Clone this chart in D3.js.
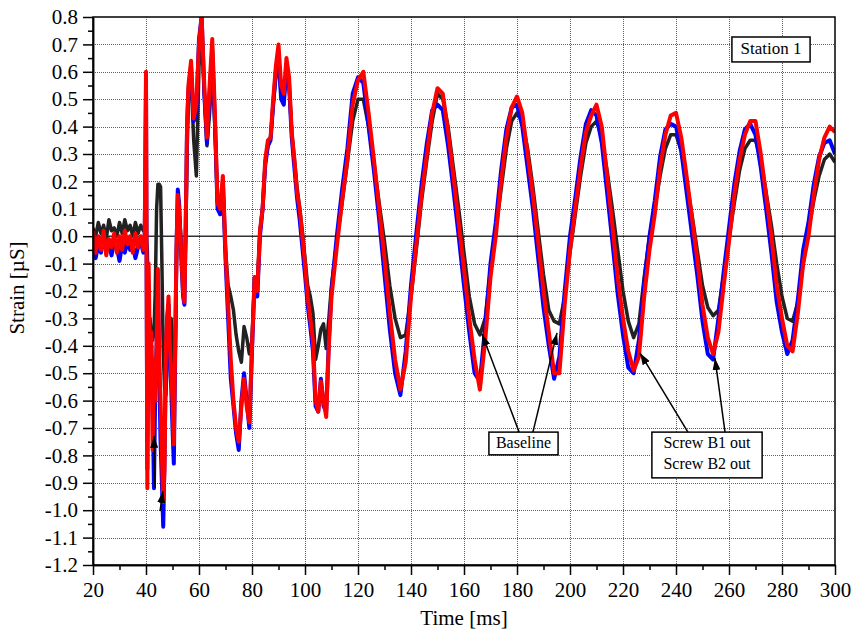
<!DOCTYPE html>
<html>
<head>
<meta charset="utf-8">
<script src="https://cdn.jsdelivr.net/npm/d3@7"></script>
<style>
  body { margin: 0; background: #fff; }
  text { font-family: "Liberation Serif", "Times New Roman", serif; fill: #000; }
</style>
</head>
<body>
<svg id="chart" width="852" height="630"></svg>
<script>
// sample times (ms)
var timeMs = [20,21,22,23,24,25,26,27,28,29,30,31,32,33,34,35,36,37,38,39,
  39.5,40,40.5,41,41.5,42,42.5,43,43.5,44,44.5,45,45.5,46,46.5,47,47.5,48,48.5,49,49.5,50,50.5,51,51.5,52,52.5,53,53.5,54,54.5,55,55.5,56,
  57,58,59,60,61,62,63,64,65,66,67,68,69,70,71,72,73,74,75,76,77,78,79,80,81,82,83,84,85,86,87,88,89,90,
  91,92,93,94,95,96,97,98,99,100,101,102,103,104,105,106,107,108,109,110,
  112,114,116,118,120,122,124,126,128,130,132,134,136,138,140,142,144,146,148,150,
  152,154,156,158,160,162,164,166,168,170,172,174,176,178,180,182,184,186,188,190,
  192,194,196,198,200,202,204,206,208,210,212,214,216,218,220,222,224,226,228,230,
  232,234,236,238,240,242,244,246,248,250,252,254,256,258,260,262,264,266,268,270,
  272,274,276,278,280,282,284,286,288,290,292,294,296,298,300];

// Baseline (black)
var baseline = [0.03,0.00,0.05,0.01,0.04,-0.01,0.06,0.02,0.03,0.00,0.05,0.01,0.06,0.02,0.04,0.00,0.05,0.01,0.04,0.02,
  0.02,0.00,-0.05,-0.33,-0.30,-0.36,-0.38,-0.35,-0.20,0.10,0.19,0.19,0.18,-0.10,-0.42,-0.55,-0.58,-0.45,-0.25,-0.45,-0.30,-0.42,-0.48,-0.45,-0.10,0.10,0.08,0.02,-0.08,-0.15,-0.18,0.00,0.30,0.50,
  0.58,0.35,0.22,0.62,0.75,0.52,0.33,0.45,0.60,0.40,
  0.12,0.08,0.18,-0.05,-0.18,-0.22,-0.27,-0.36,-0.42,-0.46,
  -0.33,-0.37,-0.43,-0.38,-0.15,-0.18,0.02,0.10,0.27,0.33,
  0.36,0.48,0.58,0.62,0.52,0.50,0.60,0.55,0.38,0.28,
  0.18,0.10,0.02,-0.08,-0.18,-0.22,-0.28,-0.45,-0.40,-0.34,
  -0.32,-0.41,-0.30,-0.18,
  -0.02,0.12,0.27,0.42,0.50,0.50,0.40,0.27,0.12,-0.02,
  -0.18,-0.30,-0.37,-0.36,-0.22,-0.05,0.13,0.28,0.42,0.52,
  0.50,0.40,0.25,0.10,-0.06,-0.22,-0.32,-0.36,-0.30,-0.12,
  0.02,0.17,0.32,0.42,0.45,0.42,0.32,0.18,0.02,-0.14,
  -0.27,-0.31,-0.32,-0.22,-0.06,0.08,0.22,0.34,0.40,0.42,
  0.36,0.24,0.10,-0.05,-0.20,-0.31,-0.37,-0.32,-0.15,0.00,
  0.10,0.22,0.32,0.37,0.37,0.31,0.20,0.08,-0.05,-0.18,
  -0.26,-0.29,-0.27,-0.14,-0.01,0.12,0.24,0.32,0.35,0.35,
  0.28,0.16,0.04,-0.10,-0.22,-0.30,-0.31,-0.24,-0.10,0.02,
  0.13,0.22,0.28,0.30,0.27];

// Screw B1 out (blue)
var screwB1 = [-0.02,-0.08,-0.03,-0.06,-0.01,-0.05,-0.03,-0.07,-0.02,-0.04,-0.09,-0.03,-0.06,-0.02,-0.05,-0.03,-0.08,-0.04,-0.02,-0.06,
  -0.03,0.55,-0.85,-0.20,-0.50,-0.40,-0.60,-0.92,-0.55,-0.40,-0.15,-0.50,-0.75,-0.90,-1.06,-0.80,-0.45,-0.30,-0.25,-0.45,-0.55,-0.70,-0.83,-0.45,-0.05,0.17,0.12,0.00,-0.12,-0.22,-0.25,0.05,0.40,0.53,
  0.62,0.42,0.45,0.72,0.80,0.52,0.34,0.52,0.68,0.42,
  0.10,0.08,0.20,-0.08,-0.30,-0.52,-0.62,-0.72,-0.78,-0.60,
  -0.50,-0.60,-0.70,-0.42,-0.15,-0.22,0.00,0.10,0.26,0.33,
  0.35,0.48,0.60,0.66,0.50,0.48,0.62,0.55,0.36,0.25,
  0.14,0.06,-0.04,-0.14,-0.25,-0.33,-0.42,-0.62,-0.64,-0.52,
  -0.62,-0.64,-0.38,-0.20,
  0.00,0.17,0.32,0.52,0.58,0.56,0.40,0.24,0.06,-0.14,
  -0.34,-0.50,-0.58,-0.42,-0.18,0.01,0.19,0.34,0.46,0.48,
  0.46,0.33,0.17,0.00,-0.18,-0.35,-0.50,-0.53,-0.33,-0.10,
  0.05,0.24,0.39,0.47,0.48,0.40,0.25,0.10,-0.08,-0.26,
  -0.40,-0.52,-0.44,-0.20,0.00,0.14,0.29,0.41,0.46,0.44,
  0.34,0.16,-0.02,-0.21,-0.36,-0.48,-0.50,-0.38,-0.17,0.00,
  0.13,0.29,0.39,0.41,0.40,0.31,0.16,0.01,-0.14,-0.31,
  -0.43,-0.45,-0.30,-0.13,0.03,0.19,0.31,0.39,0.41,0.37,
  0.25,0.10,-0.06,-0.24,-0.35,-0.43,-0.38,-0.23,-0.05,0.05,
  0.19,0.29,0.34,0.35,0.30];

// Screw B2 out (red)
var screwB2 = [0.02,-0.06,0.00,-0.05,0.02,-0.07,-0.01,-0.04,0.01,-0.06,0.00,-0.05,0.02,-0.03,0.00,-0.06,0.01,-0.04,0.00,-0.05,
  -0.02,0.60,-0.92,-0.10,-0.45,-0.35,-0.78,-0.45,-0.60,-0.40,-0.12,-0.45,-0.60,-0.80,-0.97,-0.85,-0.40,-0.30,-0.22,-0.40,-0.50,-0.60,-0.76,-0.40,-0.05,0.15,0.10,0.00,-0.10,-0.20,-0.24,0.05,0.40,0.55,
  0.64,0.43,0.48,0.70,0.80,0.55,0.36,0.55,0.72,0.45,
  0.12,0.10,0.22,-0.05,-0.25,-0.45,-0.60,-0.70,-0.75,-0.62,
  -0.52,-0.62,-0.68,-0.40,-0.15,-0.20,0.02,0.10,0.28,0.35,
  0.36,0.50,0.62,0.70,0.55,0.52,0.65,0.58,0.38,0.28,
  0.16,0.10,0.00,-0.10,-0.22,-0.30,-0.38,-0.60,-0.64,-0.53,
  -0.60,-0.66,-0.40,-0.22,
  -0.04,0.13,0.28,0.48,0.57,0.60,0.45,0.28,0.10,-0.08,
  -0.28,-0.45,-0.56,-0.46,-0.22,-0.03,0.15,0.30,0.45,0.54,
  0.52,0.38,0.22,0.05,-0.12,-0.30,-0.45,-0.56,-0.38,-0.15,
  0.00,0.20,0.36,0.47,0.51,0.45,0.30,0.15,-0.02,-0.20,
  -0.35,-0.50,-0.50,-0.25,-0.05,0.10,0.25,0.38,0.44,0.48,
  0.40,0.22,0.04,-0.15,-0.30,-0.42,-0.49,-0.44,-0.22,-0.05,
  0.08,0.25,0.37,0.44,0.45,0.36,0.22,0.07,-0.08,-0.25,
  -0.37,-0.43,-0.35,-0.18,-0.02,0.15,0.28,0.37,0.42,0.42,
  0.30,0.15,0.00,-0.18,-0.30,-0.40,-0.42,-0.28,-0.10,0.00,
  0.15,0.28,0.36,0.40,0.38];

// ticks
var xMajor = [20,40,60,80,100,120,140,160,180,200,220,240,260,280,300];
var xMinor = [30,50,70,90,110,130,150,170,190,210,230,250,270,290];
var yMajor = [-1.2,-1.1,-1.0,-0.9,-0.8,-0.7,-0.6,-0.5,-0.4,-0.3,-0.2,-0.1,0.0,0.1,0.2,0.3,0.4,0.5,0.6,0.7,0.8];
var yLabels = ["-1.2","-1.1","-1.0","-0.9","-0.8","-0.7","-0.6","-0.5","-0.4","-0.3","-0.2","-0.1","0.0","0.1","0.2","0.3","0.4","0.5","0.6","0.7","0.8"];
var yMinor = [-1.15,-1.05,-0.95,-0.85,-0.75,-0.65,-0.55,-0.45,-0.35,-0.25,-0.15,-0.05,0.05,0.15,0.25,0.35,0.45,0.55,0.65,0.75];

var svg = d3.select("#chart");
var margin = {top: 17, right: 17, bottom: 65, left: 93};
var width = 852 - margin.left - margin.right;
var height = 630 - margin.top - margin.bottom;

var g = svg.append("g")
  .attr("transform", "translate(" + margin.left + "," + margin.top + ")");

var x = d3.scaleLinear().domain([20, 300]).range([0, width]);
var y = d3.scaleLinear().domain([-1.2, 0.8]).range([height, 0]);

// clip voor de curves
svg.append("defs").append("clipPath").attr("id", "plotclip")
  .append("rect").attr("width", width).attr("height", height);

// pijlpunt
svg.select("defs").append("marker")
  .attr("id", "arrow")
  .attr("markerUnits", "userSpaceOnUse")
  .attr("markerWidth", 12).attr("markerHeight", 8)
  .attr("refX", 12).attr("refY", 4)
  .attr("orient", "auto")
  .append("path").attr("d", "M0,0 L12,4 L0,8 Z").attr("fill", "#000");

// blauw gestippeld raster
var gridColor = "#4a4aff";
g.append("g").selectAll("line")
  .data(xMajor.slice(1, -1))
  .enter().append("line")
  .attr("x1", d => Math.round(x(d)) + 0.5).attr("x2", d => Math.round(x(d)) + 0.5)
  .attr("y1", 0).attr("y2", height)
  .attr("stroke", gridColor).attr("stroke-width", 1).attr("stroke-dasharray", "1,1")
  .attr("shape-rendering", "crispEdges");
g.append("g").selectAll("line")
  .data(yMajor.slice(1, -1))
  .enter().append("line")
  .attr("x1", 0).attr("x2", width)
  .attr("y1", d => Math.round(y(d)) + 0.5).attr("y2", d => Math.round(y(d)) + 0.5)
  .attr("stroke", gridColor).attr("stroke-width", 1).attr("stroke-dasharray", "1,1")
  .attr("shape-rendering", "crispEdges");

// nullijn
g.append("line")
  .attr("x1", 0).attr("x2", width)
  .attr("y1", y(0)).attr("y2", y(0))
  .attr("stroke", "#333").attr("stroke-width", 1.5);

// curves
var series = [
  {name: "Baseline", values: baseline, color: "#222222", w: 3.5},
  {name: "Screw B1 out", values: screwB1, color: "#0000ff", w: 4},
  {name: "Screw B2 out", values: screwB2, color: "#ff0000", w: 4}
];

var line = d3.line()
  .x(d => x(d.t))
  .y(d => y(d.v));

var curves = g.append("g").attr("clip-path", "url(#plotclip)");
series.forEach(function (s) {
  var pts = timeMs.map((t, i) => ({t: t, v: s.values[i]}));
  curves.append("path")
    .datum(pts)
    .attr("d", line)
    .attr("fill", "none")
    .attr("stroke", s.color)
    .attr("stroke-width", s.w)
    .attr("stroke-linejoin", "round");
});

// assen
var fontSize = "21px";
var xAxis = g.append("g")
  .attr("transform", "translate(0," + height + ")")
  .call(d3.axisBottom(x).tickValues(xMajor).tickSize(10).tickSizeOuter(0).tickPadding(7).tickFormat(d3.format("d")));
var xAxisMinor = g.append("g")
  .attr("transform", "translate(0," + height + ")")
  .call(d3.axisBottom(x).tickValues(xMinor).tickSize(5).tickSizeOuter(0).tickFormat(""));
var yAxis = g.append("g")
  .call(d3.axisLeft(y).tickValues(yMajor).tickSize(10).tickSizeOuter(0).tickPadding(5)
    .tickFormat((d, i) => yLabels[i]));
var yAxisMinor = g.append("g")
  .call(d3.axisLeft(y).tickValues(yMinor).tickSize(5).tickSizeOuter(0).tickFormat(""));

[xAxis, xAxisMinor, yAxis, yAxisMinor].forEach(function (a) {
  a.selectAll("line").attr("stroke", "#000").attr("stroke-width", 1.5);
  a.select(".domain").attr("stroke", "#000").attr("stroke-width", 1.5);
  a.selectAll("text").style("font-size", fontSize)
    .style("font-family", "'Liberation Serif', 'Times New Roman', serif").attr("fill", "#000");
});

// kader
g.append("rect")
  .attr("width", width).attr("height", height)
  .attr("fill", "none").attr("stroke", "#000").attr("stroke-width", 1.5);

// astitels
svg.append("text")
  .attr("x", margin.left + width / 2).attr("y", 625)
  .attr("text-anchor", "middle").style("font-size", fontSize)
  .text("Time [ms]");
svg.append("text")
  .attr("transform", "translate(24," + 288 + ") rotate(-90)")
  .attr("text-anchor", "middle").style("font-size", fontSize)
  .text("Strain [µS]");

// annotaties (in datacoordinaten)
function labelBox(t0, t1, v0, v1, lines, size, baseV) {
  g.append("rect")
    .attr("x", x(t0)).attr("y", y(v0))
    .attr("width", x(t1) - x(t0)).attr("height", y(v1) - y(v0))
    .attr("fill", "#fff").attr("stroke", "#000").attr("stroke-width", 1.5);
  lines.forEach(function (txt, i) {
    g.append("text")
      .attr("x", (x(t0) + x(t1)) / 2)
      .attr("y", y(baseV[i]))
      .attr("text-anchor", "middle")
      .style("font-size", size)
      .text(txt);
  });
}

function arrow(tA, vA, tB, vB) {
  g.append("line")
    .attr("x1", x(tA)).attr("y1", y(vA))
    .attr("x2", x(tB)).attr("y2", y(vB))
    .attr("stroke", "#000").attr("stroke-width", 1.5)
    .attr("marker-end", "url(#arrow)");
}

arrow(180.8, -0.715, 166.8, -0.357);
arrow(186.0, -0.715, 195.1, -0.353);
arrow(244.5, -0.715, 226.4, -0.426);
arrow(258.5, -0.715, 254.7, -0.445);
arrow(43.4, -0.919, 43.0, -0.729);
arrow(45.3, -1.003, 46.4, -0.930);

labelBox(261.1, 290.6, 0.727, 0.636, ["Station 1"], "17px", [0.665]);
labelBox(169.4, 195.5, -0.715, -0.798, ["Baseline"], "16px", [-0.774]);
labelBox(230.9, 272.5, -0.715, -0.882, ["Screw B1 out", "Screw B2 out"], "16px", [-0.774, -0.851]);
</script>
</body>
</html>
